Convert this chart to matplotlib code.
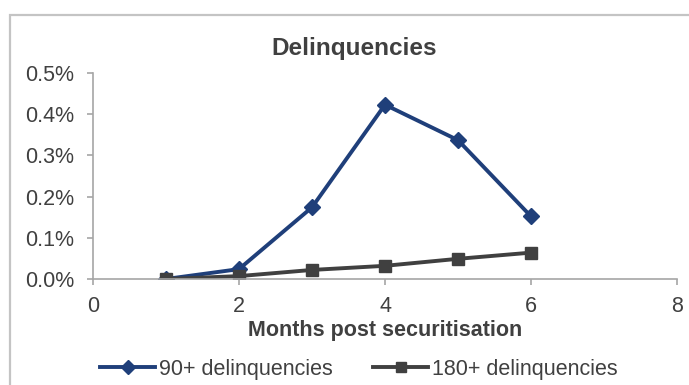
import matplotlib
matplotlib.use("Agg")
import matplotlib.pyplot as plt
from matplotlib.patches import Rectangle
from matplotlib.ticker import FuncFormatter

plt.rcParams['font.family'] = ['Liberation Sans', 'DejaVu Sans']

# data
months = [1, 2, 3, 4, 5, 6]
d90 = [0.0, 0.024, 0.174, 0.423, 0.337, 0.152]   # percent
d180 = [0.0, 0.007, 0.022, 0.032, 0.049, 0.064]  # percent
labels = ['90+ delinquencies', '180+ delinquencies']
x_ticks = [0, 2, 4, 6, 8]
y_ticks = [0.0, 0.1, 0.2, 0.3, 0.4, 0.5]

blue = '#1f3f7a'
grey = '#404040'
axis_col = '#a6a6a6'
text_col = '#404040'

fig = plt.figure(figsize=(6.89, 3.85), dpi=100)
ax = fig.add_axes([93 / 689, 1 - 279 / 385, 584 / 689, 206 / 385])

ax.plot(months, d90, color=blue, lw=2.8, marker='D', ms=8.5, label=labels[0])
ax.plot(months, d180, color=grey, lw=2.8, marker='s', ms=9, label=labels[1])

ax.set_xlim(0, 8)
ax.set_ylim(0, 0.5)
ax.set_xticks(x_ticks)
ax.set_yticks(y_ticks)
ax.yaxis.set_major_formatter(FuncFormatter(lambda v, p: '{:.1f}%'.format(v)))

for s in ['top', 'right']:
    ax.spines[s].set_visible(False)
for s in ['left', 'bottom']:
    ax.spines[s].set_color(axis_col)
    ax.spines[s].set_linewidth(1.2)
ax.tick_params(axis='both', colors=axis_col, length=4, width=1.2,
               labelsize=15.5, labelcolor=text_col)
ax.tick_params(axis='y', pad=9.4)
ax.tick_params(axis='x', pad=8.5)

ax.set_xlabel('Months post securitisation', fontsize=15.5, fontweight='bold',
              color=text_col, labelpad=2)
fig.text(354 / 689, 1 - 48 / 385, 'Delinquencies', ha='center', va='center',
         fontsize=17.5, fontweight='bold', color=text_col)

leg = fig.legend(loc='center', bbox_to_anchor=(359 / 689, 1 - 369 / 385), ncol=2,
                 frameon=False, fontsize=15.5, handlelength=2.56,
                 handletextpad=0.19, columnspacing=1.86, labelcolor=text_col,
                 borderpad=0, borderaxespad=0)
for h in leg.legend_handles:
    h.set_markersize(7)

# chart border (cut by the image edges on the right and bottom)
fig.patches.append(Rectangle((9.5 / 689, -0.1), 1.2, 0.1 + 1 - 14.5 / 385,
                             transform=fig.transFigure, fill=False,
                             edgecolor='#c4c4c4', lw=1.6, clip_on=False))

fig.savefig('out.png', dpi=100)
